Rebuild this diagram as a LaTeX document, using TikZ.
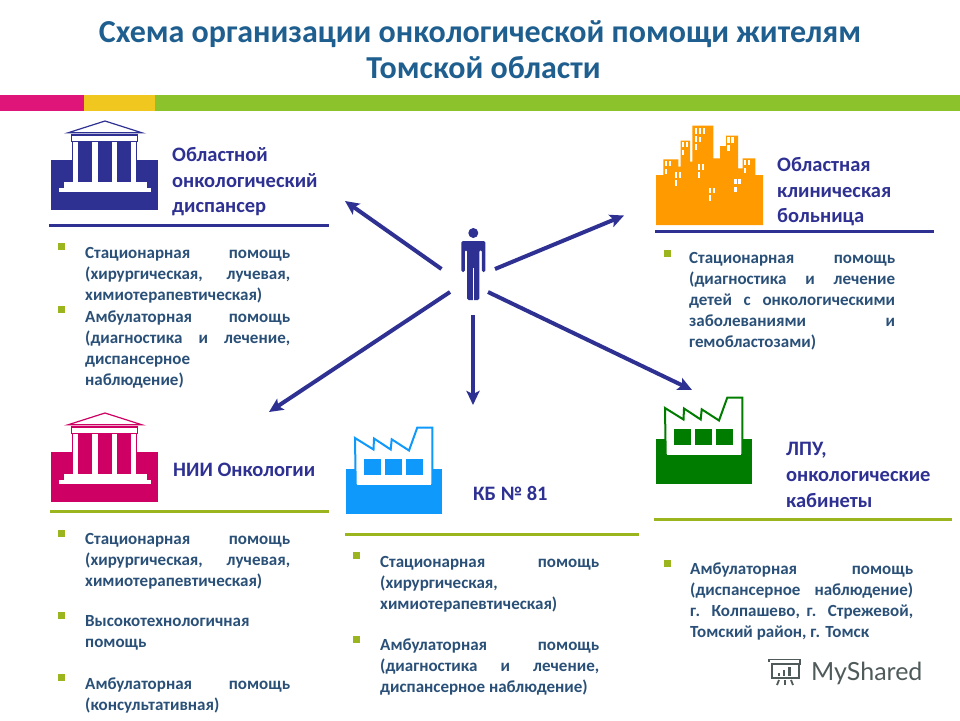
\documentclass[tikz,border=0pt]{standalone}
\usepackage{fontspec}
\setmainfont{Carlito}
\newfontfamily\logofont{Lato}
\usetikzlibrary{arrows.meta}
\tolerance=9999
\hbadness=10000
\definecolor{titleblue}{HTML}{1F5F8F}
\definecolor{headblue}{HTML}{2E3192}
\definecolor{bodyblue}{HTML}{2A5078}
\definecolor{barpink}{HTML}{E0157A}
\definecolor{baryellow}{HTML}{EFC71E}
\definecolor{bargreen}{HTML}{8CC22B}
\definecolor{ruleolive}{HTML}{9BB51F}
\definecolor{templeblue}{HTML}{2E3192}
\definecolor{templepink}{HTML}{CE0063}
\definecolor{cityorange}{HTML}{FF9A00}
\definecolor{factoryblue}{HTML}{0F99FA}
\definecolor{factorygreen}{HTML}{007D00}
\definecolor{logogray}{HTML}{505A5A}
\tikzset{
	heading/.style={anchor=north west,inner sep=0pt,align=left,text=headblue,font=\fontsize{20.5}{25.8}\selectfont\bfseries},
	bodytext/.style={anchor=north west,inner sep=0pt,align=justify,text=bodyblue,font=\fontsize{17}{21}\selectfont\bfseries},
	bullet/.style={fill=ruleolive,inner sep=0pt,minimum size=7pt},
	bluerule/.style={draw=headblue,line width=3pt},
	greenrule/.style={draw=ruleolive,line width=3pt},
	route/.style={draw=headblue,line width=4pt,-{Stealth[length=14pt,width=13pt,inset=3pt]}}
}
\newcommand{\maketemple}[3]{
	\begin{scope}[shift={(#1,#2)}]
	\fill[#3] (51,160) rectangle (158,209.5);
	\fill[#3] (71.8,141) rectangle (137.2,170);
	\fill[white] (63.5,181.5) rectangle (146.5,188.5);
	\fill[white] (59,188) rectangle (150.5,192);
	\foreach \colx in {73,92.3,111.7,131}
		\fill[white] (\colx,141) rectangle (\colx+5.2,182);
	\draw[#3,fill=white,line width=1.1pt] (71.5,135) rectangle (137.5,141.5);
	\draw[#3,fill=white,line width=1.2pt,line join=miter] (105,121) -- (142,132.8) -- (68,132.8) -- cycle;
	\end{scope}
}
\newcommand{\makefactory}[3]{
	\begin{scope}[shift={(#1,#2)}]
	\fill[#3] (6,49.3) rectangle (102,94);
	\draw[#3,fill=white,line width=2pt,line join=miter] (15,18) -- (33.5,29.5) -- (34,18.5) -- (50.7,29.5) -- (51.7,19.3) -- (69,30.5) -- (77.3,7.5) -- (92.3,7.5) -- (92.3,65) -- (15.7,65) -- cycle;
	\fill[white] (16.6,49) rectangle (91.2,64.5);
	\foreach \winx in {24.3,45.3,66}
		\fill[#3] (\winx,39.3) rectangle (\winx+16.6,54.7);
	\end{scope}
}
\newcommand{\makewindows}[2]{
	\fill[white] (#1,#2) rectangle ++(2.4,5.4);
	\fill[white] (#1+3.8,#2) rectangle ++(2.4,5.4);
	\fill[white] (#1,#2+7.6) rectangle ++(2.4,5.8);
}
\begin{document}
\begin{tikzpicture}[x=1pt,y=-1pt]
	\useasboundingbox (0,0) rectangle (960,720);
	\fill[white] (0,0) rectangle (960,720);

	% title and colour strip
	\node[text=titleblue,align=center,font=\fontsize{32}{36}\selectfont\bfseries] (title) at (480,50) {Схема организации онкологической помощи жителям\\\hspace*{7pt}Томской области};
	\fill[bargreen] (155,95) rectangle (960,111);
	\fill[baryellow] (84,95) rectangle (155,111);
	\fill[barpink] (0,95) rectangle (84,111);

	% icons
	\maketemple{0}{0}{templeblue}
	\maketemple{0}{292}{templepink}
	\makefactory{340}{420}{factoryblue}
	\makefactory{650}{390}{factorygreen}
	\begin{scope}[shift={(650,120)}]
	\fill[cityorange] (6,55) -- (13.3,55) -- (13.3,39.3) -- (28.3,39.3) -- (28.3,46.7) -- (30.7,46.7) -- (30.7,20.7) -- (40,20.7) -- (40,41.7) -- (42.3,41.7) -- (42.3,5.7) -- (63.3,5.7) -- (63.3,38.3) -- (70,38.3) -- (70,26) -- (76,26) -- (76,15.7) -- (88,15.7) -- (88,48.3) -- (92.7,48.3) -- (92.7,38.3) -- (105.3,38.3) -- (105.3,55) -- (113,55) -- (113,105) -- (6,105) -- cycle;
	\foreach \wx/\wy in {15/41,31.7/22,45/8.3,45/16.7,77.3/17.3,94/40,25/52.3,47.7/44.3,84.3/59,59/67.7}
		\makewindows{\wx}{\wy}
	\fill[white] (52.6,8.3) rectangle ++(2.4,5.4);
	\end{scope}

	% man in the middle
	\fill[headblue] (473.3,233) circle (5);
	\fill[headblue,rounded corners=1.5pt] (461.3,272) -- (461.3,241) -- (485.3,241) -- (485.3,272) -- (481.8,272) -- (481.8,250) -- (479.4,250) -- (479.4,300) -- (467,300) -- (467,250) -- (464.9,250) -- (464.9,272) -- cycle;
	\draw[white,line width=0.8pt] (473.2,268) -- (473.2,301);

	% arrows
	\coordinate (manUL) at (441.5,269);
	\coordinate (manUR) at (495,269);
	\coordinate (manLL) at (450,292);
	\coordinate (manLR) at (488,292);
	\coordinate (manD) at (473,315);
	\coordinate (toDisp) at (345,201);
	\coordinate (toHosp) at (624,215.5);
	\coordinate (toNii) at (269,412);
	\coordinate (toLpu) at (692,390);
	\coordinate (toKb) at (473,405);
	\draw[route] (manUL) -- (toDisp);
	\draw[route] (manUR) -- (toHosp);
	\draw[route] (manLL) -- (toNii);
	\draw[route] (manLR) -- (toLpu);
	\draw[route] (manD) -- (toKb);

	% headings
	\node[heading] (dispHead) at (172,147) {Областной\\онкологический\\диспансер};
	\node[heading] (hospHead) at (777,157) {Областная\\клиническая\\больница};
	\node[heading] (niiHead) at (173,463) {НИИ Онкологии};
	\node[heading] (kbHead) at (473,486) {КБ № 81};
	\node[heading] (lpuHead) at (786,442) {ЛПУ,\\онкологические\\кабинеты};

	% rules under the headings
	\coordinate (ruleA) at (49,225);
	\coordinate (ruleB) at (329,225);
	\coordinate (ruleC) at (655,231);
	\coordinate (ruleD) at (934,231);
	\coordinate (ruleE) at (50,511);
	\coordinate (ruleF) at (329,511);
	\coordinate (ruleG) at (345,534.5);
	\coordinate (ruleH) at (639,534.5);
	\coordinate (ruleI) at (654,519);
	\coordinate (ruleJ) at (952,519);
	\draw[bluerule] (ruleA) -- (ruleB);
	\draw[bluerule] (ruleC) -- (ruleD);
	\draw[greenrule] (ruleE) -- (ruleF);
	\draw[greenrule] (ruleG) -- (ruleH);
	\draw[greenrule] (ruleI) -- (ruleJ);

	% lists
	\node[bullet] (b1) at (61,246) {};
	\node[bodytext,text width=205pt] (t1) at (85,247) {Стационарная помощь\linebreak(хирургическая, лучевая,\linebreak химиотерапевтическая)};
	\node[bullet] (b2) at (61,309) {};
	\node[bodytext,text width=205pt] (t2) at (85,311) {Амбулаторная помощь\linebreak(диагностика и лечение,\linebreak диспансерное\\наблюдение)};

	\node[bullet] (b3) at (667,253) {};
	\node[bodytext,text width=206pt] (t3) at (689,252.5) {Стационарная помощь\linebreak(диагностика и лечение\linebreak детей с онкологическими\linebreak заболеваниями и\linebreak гемобластозами)};

	\node[bullet] (b4) at (61,533) {};
	\node[bodytext,text width=205pt] (t4) at (85,533) {Стационарная помощь\linebreak(хирургическая, лучевая,\linebreak химиотерапевтическая)};
	\node[bullet] (b5) at (61,615) {};
	\node[bodytext,text width=205pt] (t5) at (85,615) {Высокотехнологичная\\помощь};
	\node[bullet] (b6) at (61,677) {};
	\node[bodytext,text width=205pt] (t6) at (85,678) {Амбулаторная помощь\linebreak(консультативная)};

	\node[bullet] (b7) at (356,555) {};
	\node[bodytext,text width=219pt] (t7) at (380,556) {Стационарная помощь\linebreak(хирургическая,\\химиотерапевтическая)};
	\node[bullet] (b8) at (356,639) {};
	\node[bodytext,text width=219pt] (t8) at (380,639) {Амбулаторная помощь\linebreak(диагностика и лечение,\linebreak диспансерное наблюдение)};

	\node[bullet] (b9) at (667,563) {};
	\node[bodytext,text width=223pt] (t9) at (690,563) {Амбулаторная помощь\linebreak(диспансерное наблюдение)\linebreak г. Колпашево, г. Стрежевой,\linebreak Томский район, г. Томск};

	% watermark
	\node[anchor=west,inner sep=0pt,text=logogray,font=\logofont\fontsize{25}{25}\selectfont] (logoText) at (811,673) {MyShared};
	\begin{scope}[logogray,line width=1.8pt]
	\draw (769,662) -- (769,659.5) -- (800,659.5) -- (800,664) -- (772,664) -- (772,678) -- (799,678) -- (799,664);
	\fill (778,673) rectangle (780,676);
	\fill (783,670) rectangle (785,676);
	\fill (788,667) rectangle (791,676);
	\draw (779,680) -- (777,685);
	\draw (785,680) -- (785,685);
	\draw (791,680) -- (793,685);
	\end{scope}
\end{tikzpicture}
\end{document}
